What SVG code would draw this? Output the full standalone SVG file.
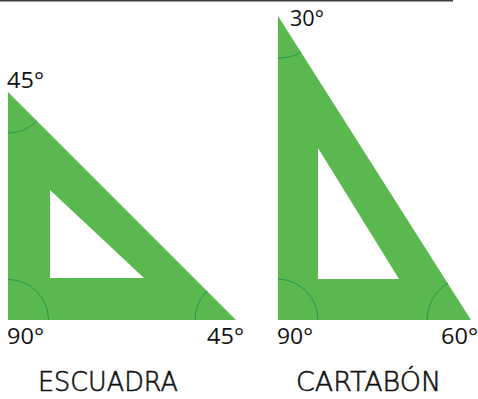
<svg xmlns="http://www.w3.org/2000/svg" width="478" height="399" viewBox="0 0 478 399">
<style>
.tri{fill:#5ab94e;fill-rule:evenodd}
.arc{fill:none;stroke:#1f9650;stroke-width:1}
.deg{font-family:"Open Sans","Liberation Sans",sans-serif;font-size:22px;fill:#111}
.name{font-family:"DejaVu Sans",sans-serif;font-size:26px;fill:#111;font-weight:200;stroke:#111;stroke-width:.6;stroke-linejoin:round}
</style>
<rect width="478" height="399" fill="#fff"/>
<rect x="0" y="0" width="453" height="1.500" fill="#3a3a3a"/>
<g id="escuadra">
<path class="tri" d="M8 92L236 320H8ZM50 190V278H144Z"/>
<path class="arc" d="M8 133A41 41 0 0 0 37 121"/>
<path class="arc" d="M8 279.500A40.500 40.500 0 0 1 48.500 320"/>
<path class="arc" d="M195 320A41 41 0 0 1 207 291"/>
<text class="deg" x="7" y="88" textLength="37" lengthAdjust="spacingAndGlyphs">45°</text>
<text class="deg" x="7" y="344" textLength="37" lengthAdjust="spacingAndGlyphs">90°</text>
<text class="deg" x="207" y="344" textLength="37" lengthAdjust="spacingAndGlyphs">45°</text>
<text class="name" x="38" y="391" textLength="140" lengthAdjust="spacingAndGlyphs">ESCUADRA</text>
</g>
<g id="cartabon">
<path class="tri" d="M278 16L471 320H278ZM318 148V279H399Z"/>
<path class="arc" d="M278 58A42 42 0 0 0 301 52"/>
<path class="arc" d="M278 279A41 41 0 0 1 318 320"/>
<path class="arc" d="M427 320A43 43 0 0 1 448 283"/>
<text class="deg" x="290" y="26" textLength="34" lengthAdjust="spacingAndGlyphs">30°</text>
<text class="deg" x="277" y="344" textLength="36" lengthAdjust="spacingAndGlyphs">90°</text>
<text class="deg" x="441" y="344" textLength="37" lengthAdjust="spacingAndGlyphs">60°</text>
<text class="name" x="296" y="391" textLength="145" lengthAdjust="spacingAndGlyphs">CARTABÓN</text>
</g>
</svg>
